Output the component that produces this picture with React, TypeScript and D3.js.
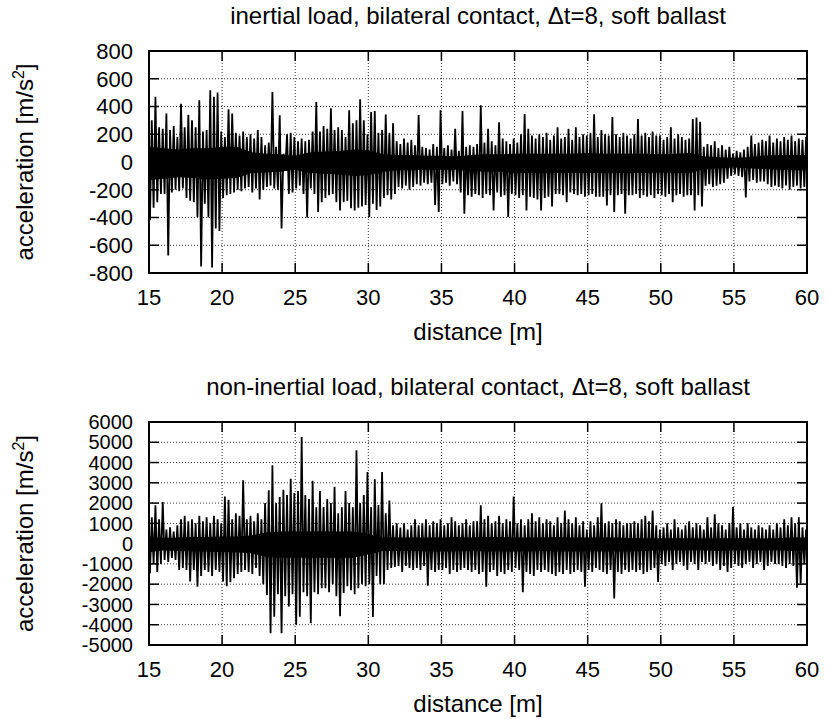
import React from "react";
import * as d3 from "d3";

// sampling grid along the track, every 0.25 m
const distance = d3.range(15, 60.001, 0.25);
// coarser grid for the solid core band, every 1 m
const coreDistance = d3.range(15, 60.001, 1);

// inertial load: local peaks (m/s^2)
const inertialHi = [
  530, 300, 470, 250, 240, 350, 230, 260, 180, 420, 250, 340, 300, 250, 445, 220,
  230, 517, 470, 500, 220, 180, 380, 350, 210, 190, 220, 180, 200, 170, 230, 180,
  120, 140, 505, 110, 336, 60, 200, 210, 180, 150, 170, 150, 160, 220, 433, 220,
  260, 240, 387, 230, 250, 230, 180, 372, 280, 300, 452, 300, 200, 360, 367, 210,
  230, 343, 210, 280, 150, 130, 170, 140, 160, 120, 338, 110, 100, 90, 130, 110,
  372, 100, 120, 90, 240, 80, 367, 110, 120, 110, 130, 409, 140, 240, 150, 120,
  287, 170, 150, 130, 170, 140, 200, 345, 240, 190, 170, 200, 180, 210, 160, 190,
  250, 170, 180, 240, 160, 250, 180, 200, 190, 210, 344, 180, 230, 200, 190, 324,
  200, 180, 210, 190, 170, 200, 310, 190, 210, 180, 220, 190, 190, 160, 180, 250,
  170, 200, 180, 160, 170, 310, 320, 290, 110, 130, 120, 150, 100, 120, 90, 110,
  60, 80, 70, 90, 110, 190, 130, 140, 160, 150, 190, 140, 170, 150, 180, 160,
  190, 150, 170, 160, 180,
];
const inertialLo = [
  -420, -330, -290, -230, -230, -674, -220, -200, -210, -190, -260, -280, -290, -397, -753, -300,
  -400, -760, -480, -498, -260, -240, -230, -220, -200, -210, -190, -180, -220, -190, -270, -200,
  -180, -170, -190, -200, -480, -60, -230, -220, -190, -170, -230, -400, -190, -230, -360, -290,
  -260, -240, -230, -290, -350, -290, -280, -334, -350, -330, -320, -310, -397, -300, -345, -320,
  -260, -240, -270, -230, -180, -190, -170, -200, -180, -160, -170, -150, -160, -150, -310, -360,
  -160, -150, -170, -140, -160, -220, -373, -240, -250, -230, -240, -260, -230, -240, -350, -220,
  -250, -240, -397, -230, -240, -260, -240, -350, -250, -260, -270, -350, -260, -250, -320, -230,
  -230, -240, -290, -220, -230, -240, -230, -250, -240, -230, -250, -250, -250, -313, -240, -360,
  -240, -230, -372, -240, -240, -230, -260, -240, -250, -240, -260, -230, -240, -250, -230, -290,
  -240, -230, -250, -240, -240, -350, -240, -320, -170, -160, -180, -170, -160, -150, -120, -100,
  -90, -100, -110, -255, -140, -130, -150, -140, -140, -160, -180, -170, -180, -190, -170, -200,
  -180, -170, -190, -180, -170,
];
// solid black band around zero, per metre
const inertialCoreHi = [
  110, 100, 90, 100, 100, 110, 110, 70, 60, 55, 45, 70, 75, 80, 90, 85,
  55, 50, 50, 45, 45, 40, 50, 55, 55, 60, 60, 60, 60, 60, 65, 60,
  60, 60, 60, 55, 60, 65, 40, 35, 30, 35, 45, 50, 50, 50,
];
const inertialCoreLo = [
  -130, -120, -110, -115, -125, -120, -115, -80, -75, -70, -55, -80, -85, -90, -100, -95,
  -70, -60, -60, -55, -55, -55, -65, -70, -70, -80, -80, -80, -80, -80, -80, -80,
  -80, -80, -80, -75, -80, -80, -50, -45, -40, -45, -50, -55, -60, -60,
];

// non-inertial load
const nonInertialHi = [
  1000, 1300, 1890, 1200, 2050, 700, 800, 600, 900, 1200, 1380, 1100, 1200, 1000, 1380, 1100,
  1300, 1000, 1380, 1200, 1000, 2330, 2170, 1200, 1500, 1380, 3120, 1200, 1380, 1100, 1500, 1200,
  2000, 2630, 3860, 2000, 2300, 2660, 2400, 3200, 2500, 2600, 5260, 2400, 2200, 3100, 1800, 2600,
  1800, 2200, 2000, 2800, 1500, 1800, 2600, 2000, 1800, 4600, 2000, 2400, 3530, 1800, 3170, 1900,
  3530, 1500, 2130, 900, 1000, 800, 1000, 700, 900, 1200, 900, 1000, 1200, 900, 1100, 1000,
  1200, 900, 1000, 1300, 1100, 900, 1000, 1200, 900, 1100, 1100, 1890, 1200, 1380, 1000, 1100,
  1380, 1000, 1200, 1100, 2330, 1000, 1200, 900, 1200, 1500, 1100, 1300, 1000, 1200, 1100, 900,
  1300, 1000, 1630, 1200, 1000, 1300, 900, 1100, 700, 1100, 900, 1300, 1990, 1000, 1100, 1000,
  1200, 1100, 900, 1000, 1000, 1100, 1000, 1200, 1380, 1100, 1630, 900, 700, 800, 1000, 700,
  1200, 800, 700, 900, 1100, 800, 1000, 900, 700, 1300, 800, 1450, 1000, 900, 700, 1000,
  1800, 800, 1000, 700, 1000, 800, 700, 900, 800, 700, 900, 700, 1000, 800, 1200, 900,
  1300, 1000, 1300, 800, 700,
];
const nonInertialLo = [
  -1470, -1000, -1400, -1000, -800, -900, -700, -800, -1300, -1200, -1300, -1870, -1300, -2120, -1600, -1300,
  -1400, -1600, -1300, -1400, -1870, -2100, -1900, -1700, -1500, -1400, -1300, -1400, -1500, -1200, -1600, -2000,
  -2540, -4420, -3600, -2500, -4420, -2600, -3100, -2500, -4000, -3600, -2400, -2600, -3930, -2400, -2500, -2200,
  -2200, -2400, -2000, -2600, -3580, -2440, -2100, -2300, -2500, -2200, -2000, -2100, -2000, -3620, -1600, -2000,
  -2000, -1300, -1200, -1150, -1100, -1400, -1100, -1200, -1300, -1200, -1300, -1100, -2070, -1300, -1400, -1300,
  -1300, -1200, -1500, -1300, -1400, -1300, -1200, -1300, -1400, -1300, -1500, -1400, -2120, -1400, -1300, -1600,
  -1400, -1500, -1300, -1400, -1200, -1300, -2400, -1400, -1500, -1600, -1300, -1400, -1300, -1400, -1500, -1600,
  -1400, -1500, -1300, -1500, -1400, -1300, -1400, -2120, -1300, -1400, -1200, -1300, -1400, -1500, -1300, -2700,
  -1400, -1500, -1300, -1400, -1300, -1400, -1300, -1500, -1400, -1300, -1200, -1890, -1000, -1100, -900, -1300,
  -1000, -900, -1100, -1300, -900, -1000, -1300, -900, -1000, -900, -1100, -1000, -1300, -1100, -1400, -1200,
  -1000, -1100, -1200, -1000, -900, -1200, -1000, -900, -1300, -1100, -900, -1000, -1000, -1100, -1200, -1000,
  -1100, -2170, -1970, -1000, -900,
];
const nonInertialCoreHi = [
  350, 280, 300, 330, 330, 350, 350, 400, 550, 600, 600, 600, 600, 600, 600, 480,
  300, 300, 300, 300, 300, 330, 300, 330, 330, 300, 300, 300, 330, 300, 300, 300,
  300, 270, 270, 270, 270, 270, 250, 270, 270, 270, 250, 270, 300, 300,
];
const nonInertialCoreLo = [
  -420, -330, -360, -390, -390, -420, -420, -480, -650, -700, -700, -700, -700, -700, -700, -540,
  -360, -360, -360, -390, -390, -390, -360, -390, -390, -390, -390, -360, -390, -390, -390, -390,
  -390, -390, -360, -330, -330, -330, -330, -360, -330, -330, -330, -330, -360, -360,
];

const xTicks = [15, 20, 25, 30, 35, 40, 45, 50, 55, 60];
const inertialTicks = [-800, -600, -400, -200, 0, 200, 400, 600, 800];
const nonInertialTicks = [-5000, -4000, -3000, -2000, -1000, 0, 1000, 2000, 3000, 4000, 5000, 6000];

const FONT = "'Liberation Sans', Arial, Helvetica, sans-serif";
const LEFT = 149;
const RIGHT = 807;

type PanelProps = {
  id: string;
  title: string;
  top: number;
  bottom: number;
  domain: [number, number];
  yTicks: number[];
  hi: number[];
  lo: number[];
  coreHi: number[];
  coreLo: number[];
  tickFont: number;
};

function Panel({ id, title, top, bottom, domain, yTicks, hi, lo, coreHi, coreLo, tickFont }: PanelProps) {
  const x = d3.scaleLinear().domain([15, 60]).range([LEFT, RIGHT]);
  const y = d3.scaleLinear().domain(domain).range([bottom, top]);

  // zigzag through the peaks: upper peak, then lower peak half a step later
  const pts: [number, number][] = [];
  distance.forEach((d, i) => {
    pts.push([d - 0.06, hi[i]]);
    pts.push([d + 0.065, lo[i]]);
  });
  const path = d3
    .line<[number, number]>()
    .x((p) => x(p[0]))
    .y((p) => y(p[1]))(pts);

  const core = d3
    .area<number>()
    .x((d) => x(d))
    .y0((_, i) => y(coreLo[i]))
    .y1((_, i) => y(coreHi[i]))(coreDistance);

  const tick = 10;
  const midY = (top + bottom) / 2;

  return (
    <g>
      <clipPath id={id}>
        <rect x={LEFT} y={top} width={RIGHT - LEFT} height={bottom - top} />
      </clipPath>
      <text x={(LEFT + RIGHT) / 2} y={top - 27} textAnchor="middle" fontSize={24}>
        {title}
      </text>

      {/* grid */}
      <g stroke="#333" strokeWidth={1} strokeDasharray="1,2">
        {yTicks.slice(1, -1).map((t) => (
          <line key={"gy" + t} x1={LEFT} x2={RIGHT} y1={y(t)} y2={y(t)} />
        ))}
        {xTicks.slice(1, -1).map((t) => (
          <line key={"gx" + t} x1={x(t)} x2={x(t)} y1={top} y2={bottom} />
        ))}
      </g>

      <g clipPath={`url(#${id})`}>
        <path d={core ?? ""} fill="#000" />
        <path d={path ?? ""} fill="none" stroke="#000" strokeWidth={1.8} />
      </g>

      {/* ticks */}
      <g stroke="#000" strokeWidth={1.5}>
        {yTicks.map((t) => (
          <g key={"ty" + t}>
            <line x1={LEFT} x2={LEFT + tick} y1={y(t)} y2={y(t)} />
            <line x1={RIGHT} x2={RIGHT - tick} y1={y(t)} y2={y(t)} />
          </g>
        ))}
        {xTicks.map((t) => (
          <g key={"tx" + t}>
            <line x1={x(t)} x2={x(t)} y1={bottom} y2={bottom - tick} />
            <line x1={x(t)} x2={x(t)} y1={top} y2={top + tick} />
          </g>
        ))}
      </g>
      <rect x={LEFT} y={top} width={RIGHT - LEFT} height={bottom - top} fill="none" stroke="#000" strokeWidth={2} />

      {/* tick labels */}
      {yTicks.map((t) => (
        <text key={"ly" + t} x={133} y={y(t) + tickFont * 0.36} textAnchor="end" fontSize={tickFont}>
          {t}
        </text>
      ))}
      {xTicks.map((t) => (
        <text key={"lx" + t} x={x(t)} y={bottom + 32} textAnchor="middle" fontSize={22}>
          {t}
        </text>
      ))}

      <text x={(LEFT + RIGHT) / 2} y={bottom + 67} textAnchor="middle" fontSize={24}>
        distance [m]
      </text>
      <text transform={`translate(33,${midY}) rotate(-90)`} textAnchor="middle" fontSize={24}>
        acceleration [m/s
        <tspan dy={-9} fontSize={16}>
          2
        </tspan>
        <tspan dy={9}>]</tspan>
      </text>
    </g>
  );
}

export default function App() {
  return (
    <svg
      width={827}
      height={719}
      style={{ position: "absolute", left: 0, top: 0, background: "#fff" }}
      fontFamily={FONT}
      fill="#000"
    >
      <rect width={827} height={719} fill="#fff" />
      <Panel
        id="clip-inertial"
        title="inertial load, bilateral contact, Δt=8, soft ballast"
        top={51}
        bottom={273}
        domain={[-800, 800]}
        yTicks={inertialTicks}
        hi={inertialHi}
        lo={inertialLo}
        coreHi={inertialCoreHi}
        coreLo={inertialCoreLo}
        tickFont={22}
      />
      <Panel
        id="clip-noninertial"
        title="non-inertial load, bilateral contact, Δt=8, soft ballast"
        top={422}
        bottom={645}
        domain={[-5000, 6000]}
        yTicks={nonInertialTicks}
        hi={nonInertialHi}
        lo={nonInertialLo}
        coreHi={nonInertialCoreHi}
        coreLo={nonInertialCoreLo}
        tickFont={20}
      />
    </svg>
  );
}
